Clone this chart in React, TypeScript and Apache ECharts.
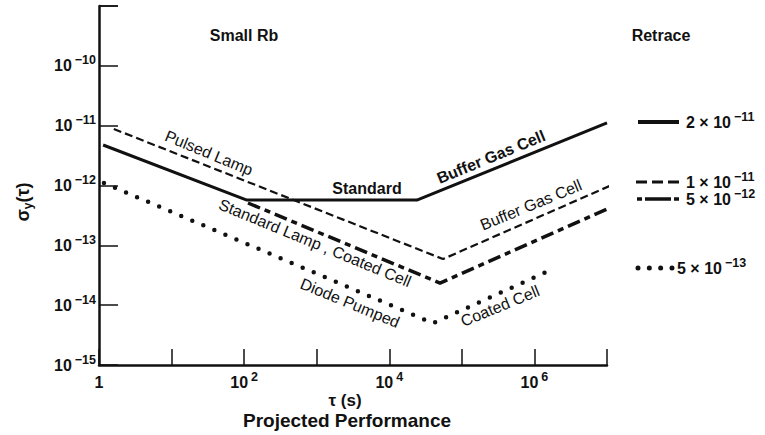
import React, { useEffect, useRef } from 'react';
import * as echarts from 'echarts';

const FONT = '"Liberation Sans", Arial, Helvetica, sans-serif';
const INK = '#111';

// Tick labels (exponents of 10 that carry a label)
const xLabelExponents = [0, 2, 4, 6];
const yLabelExponents = [-15, -14, -13, -12, -11, -10];

// Series: [tau (s), sigma_y(tau)]
const standardBufferGas: [number, number][] = [
  [1.14, 4.75e-12],
  [109, 5.7e-13],
  [2.4e4, 5.7e-13],
  [1e7, 1.11e-11],
];
const pulsedLampBufferGas: [number, number][] = [
  [1.6, 8.8e-12],
  [5.5e4, 5.9e-14],
  [1.46e7, 1.15e-12],
];
const standardLampCoatedCell: [number, number][] = [
  [113, 5.1e-13],
  [5.0e4, 2.34e-14],
  [1.17e7, 4.4e-13],
];
const diodePumpedCoatedCell: [number, number][] = [
  [1.17, 1.1e-12],
  [4.0e4, 5.0e-15],
  [1.7e6, 3.9e-14],
];

// Retrace legend
const retraceMantissa = ['2', '1', '5', '5'];
const retraceExponent = ['−11', '−11', '−12', '−13'];

const tickRich = {
  b: { fontFamily: FONT, fontSize: 16, fontWeight: 'bold', color: INK, lineHeight: 24 },
  s: {
    fontFamily: FONT,
    fontSize: 12.5,
    fontWeight: 'bold',
    color: INK,
    lineHeight: 13,
    verticalAlign: 'top',
    padding: [0, 0, 0, 3],
  },
};

function expLabel(exp: number): string {
  if (exp === 0) return '{b|1}';
  const e = exp < 0 ? '−' + -exp : String(exp);
  return `{b|10}{s|${e}}`;
}

function expOf(v: number): number {
  return Math.round(Math.log10(v));
}

export default function App() {
  const ref = useRef<HTMLDivElement>(null);

  useEffect(() => {
    if (!ref.current) return;
    const chart = echarts.init(ref.current, undefined, { renderer: 'svg' });

    const annot = (
      text: string,
      x: number,
      y: number,
      rotation: number,
      bold: boolean,
      fontSize = 16
    ) => ({
      type: 'text',
      x,
      y,
      rotation,
      style: {
        text,
        fontFamily: FONT,
        fontSize,
        fontWeight: bold ? 'bold' : 'normal',
        fill: INK,
        align: 'center',
        verticalAlign: 'middle',
      },
    });

    const ang = 0.391;

    const legendRich = {
      n: { fontFamily: FONT, fontSize: 16, fontWeight: 'bold', fill: INK, color: INK, lineHeight: 24 },
      s: {
        fontFamily: FONT,
        fontSize: 12.5,
        fontWeight: 'bold',
        fill: INK,
        color: INK,
        lineHeight: 13,
        verticalAlign: 'top',
        padding: [0, 0, 0, 3],
      },
    };
    const legendText = (i: number, x: number, y: number) => ({
      type: 'text',
      x,
      y,
      style: {
        text: `{n|${retraceMantissa[i]} × 10}{s|${retraceExponent[i]}}`,
        rich: legendRich,
        align: 'left',
        verticalAlign: 'middle',
      },
    });

    const option: any = {
      animation: false,
      backgroundColor: '#fff',
      grid: { left: 99, right: 158, top: 6, bottom: 70, containLabel: false },
      xAxis: {
        type: 'log',
        logBase: 10,
        min: 1,
        max: 1e7,
        axisLine: { show: true, lineStyle: { color: INK, width: 2.5 } },
        axisTick: { show: true, inside: true, length: 16, lineStyle: { color: INK, width: 1.5 } },
        minorTick: { show: false },
        splitLine: { show: false },
        axisLabel: {
          interval: 0,
          margin: 5,
          showMinLabel: true,
          showMaxLabel: true,
          formatter: (v: number) => {
            const e = expOf(v);
            return xLabelExponents.includes(e) ? expLabel(e) : '';
          },
          rich: tickRich,
        },
      },
      yAxis: {
        type: 'log',
        logBase: 10,
        min: 1e-15,
        max: 1e-9,
        axisLine: { show: true, lineStyle: { color: INK, width: 2.5 } },
        axisTick: { show: true, inside: true, length: 19, lineStyle: { color: INK, width: 1.5 } },
        minorTick: { show: false },
        splitLine: { show: false },
        axisLabel: {
          interval: 0,
          margin: 3,
          showMinLabel: true,
          showMaxLabel: true,
          formatter: (v: number) => {
            const e = expOf(v);
            return yLabelExponents.includes(e) ? expLabel(e) : '';
          },
          rich: tickRich,
        },
      },
      series: [
        {
          name: 'Standard / Buffer Gas Cell',
          type: 'line',
          data: standardBufferGas,
          symbol: 'none',
          clip: false,
          lineStyle: { color: INK, width: 3 },
        },
        {
          name: 'Pulsed Lamp / Buffer Gas Cell',
          type: 'line',
          data: pulsedLampBufferGas,
          symbol: 'none',
          clip: false,
          lineStyle: { color: INK, width: 2.2, type: [8, 4] },
        },
        {
          name: 'Standard Lamp, Coated Cell',
          type: 'line',
          data: standardLampCoatedCell,
          symbol: 'none',
          clip: false,
          lineStyle: { color: INK, width: 3.5, type: [13, 5, 6, 5] },
        },
        {
          name: 'Diode Pumped / Coated Cell',
          type: 'line',
          data: diodePumpedCoatedCell,
          symbol: 'none',
          clip: false,
          lineStyle: { color: INK, width: 4.5, type: [0, 12], cap: 'round' },
        },
      ],
      graphic: [
        annot('Small Rb', 244, 35, 0, true),
        annot('Retrace', 661, 35, 0, true),
        annot('Pulsed Lamp', 209, 153, -ang, false),
        annot('Standard', 367, 188, 0, true),
        annot('Buffer Gas Cell', 491, 157, ang, true),
        annot('Buffer Gas Cell', 531, 205, ang, false),
        annot('Standard Lamp , Coated Cell', 315, 243, -ang, false),
        annot('Diode Pumped', 350, 303, -ang, false),
        annot('Coated Cell', 500, 306, ang, false),
        // axis titles
        {
          type: 'text',
          x: 345,
          y: 400,
          style: {
            text: 'τ (s)',
            fontFamily: FONT,
            fontSize: 17,
            fontWeight: 'bold',
            fill: INK,
            align: 'center',
            verticalAlign: 'middle',
          },
        },
        annot('Projected Performance', 347, 420, 0, true, 19),
        {
          type: 'text',
          x: 23,
          y: 202,
          rotation: Math.PI / 2,
          style: {
            text: '{g|σ}{u|y}{g|(τ)}',
            rich: {
              g: { fontFamily: FONT, fontSize: 18, fontWeight: 'bold', fill: INK, color: INK, lineHeight: 22 },
              u: {
                fontFamily: FONT,
                fontSize: 12,
                fontWeight: 'bold',
                fill: INK,
                color: INK,
                lineHeight: 14,
                verticalAlign: 'bottom',
              },
            },
            align: 'center',
            verticalAlign: 'middle',
          },
        },
        // Retrace legend
        {
          type: 'line',
          shape: { x1: 638, y1: 122, x2: 679, y2: 122 },
          style: { stroke: INK, lineWidth: 4 },
        },
        legendText(0, 686, 122),
        {
          type: 'line',
          shape: { x1: 636, y1: 182, x2: 679, y2: 182 },
          style: { stroke: INK, lineWidth: 3, lineDash: [11, 5] },
        },
        legendText(1, 686, 182),
        {
          type: 'line',
          shape: { x1: 637, y1: 199, x2: 679, y2: 199 },
          style: { stroke: INK, lineWidth: 3.5, lineDash: [5, 3, 26, 3, 5, 100] },
        },
        legendText(2, 686, 199),
        {
          type: 'line',
          shape: { x1: 638, y1: 268, x2: 672.5, y2: 268 },
          style: { stroke: INK, lineWidth: 5, lineDash: [0, 11.33], lineCap: 'round' },
        },
        legendText(3, 677, 268),
      ],
    };

    chart.setOption(option);
    return () => chart.dispose();
  }, []);

  return (
    <div
      ref={ref}
      style={{ position: 'absolute', left: 0, top: 0, width: 765, height: 435, background: '#fff' }}
    />
  );
}
